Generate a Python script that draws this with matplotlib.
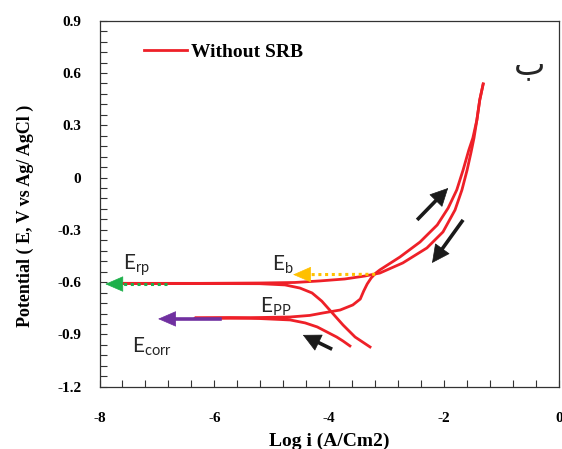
import matplotlib
matplotlib.use("Agg")
import matplotlib.pyplot as plt
from matplotlib.ticker import MultipleLocator, FixedLocator, FuncFormatter

plt.rcParams['axes.unicode_minus'] = False
plt.rcParams['mathtext.fontset'] = 'custom'
plt.rcParams['mathtext.rm'] = 'Lato'
plt.rcParams['mathtext.it'] = 'Lato'

# ---- data (log i in A/cm2, potential in V) ----
fwd_logi = [-3.64, -3.76, -3.87, -4.04, -4.21, -4.42, -4.68, -5.21, -5.73, -6.34,
            -5.73, -5.21, -4.68, -4.34, -4.11, -3.81, -3.59, -3.46, -3.40, -3.34,
            -3.27, -3.19, -3.12, -2.77, -2.42, -2.12, -1.93, -1.78, -1.67, -1.57,
            -1.50, -1.43, -1.38, -1.32]
fwd_E = [-0.966, -0.938, -0.915, -0.886, -0.857, -0.834, -0.817, -0.809, -0.806, -0.806,
         -0.805, -0.803, -0.800, -0.791, -0.777, -0.760, -0.731, -0.697, -0.651, -0.611,
         -0.576, -0.548, -0.530, -0.456, -0.370, -0.272, -0.175, -0.071, 0.043, 0.158,
         0.227, 0.330, 0.445, 0.537]

rev_logi = [-1.32, -1.38, -1.43, -1.48, -1.53, -1.60, -1.69, -1.81, -2.02, -2.30,
            -2.72, -3.12, -3.38, -3.73, -4.16, -4.60, -5.21, -6.25, -7.59,
            -6.25, -5.21, -4.77, -4.51, -4.30, -4.13, -3.93, -3.76, -3.55, -3.29]
rev_E = [0.537, 0.445, 0.330, 0.227, 0.147, 0.043, -0.071, -0.186, -0.312, -0.404,
         -0.490, -0.548, -0.565, -0.582, -0.593, -0.602, -0.605, -0.607, -0.607,
         -0.608, -0.609, -0.616, -0.634, -0.662, -0.709, -0.783, -0.846, -0.915, -0.972]

# annotation arrows: (tail, tip)
erp_arrow = ((-6.82, -0.611), (-7.90, -0.611))
ecorr_arrow = ((-5.90, -0.811), (-6.98, -0.811))
eb_arrow = ((-3.20, -0.555), (-4.63, -0.557))
scan_arrows = [((-2.47, -0.243), (-1.93, -0.060)),
               ((-1.67, -0.243), (-2.21, -0.490)),
               ((-3.95, -0.985), (-4.46, -0.903))]

x_ticks = [-8, -6, -4, -2, 0]
y_ticks = [0.9, 0.6, 0.3, 0, -0.3, -0.6, -0.9, -1.2]

red = '#EE2028'

fig = plt.figure(figsize=(5.62, 4.49), dpi=100)
ax = fig.add_axes([99.5/562, 1-386.7/449, 459.5/562, 366/449])
ax.set_xlim(-8, 0)
ax.set_ylim(-1.2, 0.9)

ax.plot(fwd_logi, fwd_E, color=red, lw=2.0, label='Without SRB', solid_joinstyle='round', zorder=3)
ax.plot(rev_logi, rev_E, color=red, lw=2.0, solid_joinstyle='round', zorder=3)

def head(tail, tip, color, ms=20, hl=0.6, hw=0.26):
    dx = tip[0] - tail[0]
    dy = tip[1] - tail[1]
    start = (tip[0] - 0.05 * dx, tip[1] - 0.05 * dy)
    ax.annotate('', xy=tip, xytext=start,
                arrowprops=dict(arrowstyle=f'-|>,head_length={hl},head_width={hw}',
                                color=color, lw=0.5, shrinkA=0, shrinkB=0,
                                mutation_scale=ms), zorder=5)

# green dotted arrow (Erp)
(t, h) = erp_arrow
ax.plot([t[0], h[0] + 0.2], [t[1], h[1]], color='#1DB04B', lw=2.2, ls=(0, (1, 1.2)), zorder=4)
head(t, h, '#1DB04B')
# purple solid arrow (Ecorr)
(t, h) = ecorr_arrow
ax.plot([t[0], h[0] + 0.2], [t[1], h[1]], color='#7030A0', lw=2.6, zorder=4)
head(t, h, '#7030A0')
# yellow dotted arrow (Eb)
(t, h) = eb_arrow
ax.plot([t[0], h[0] + 0.2], [t[1], h[1]], color='#FFC000', lw=2.2, ls=(0, (1, 1.2)), zorder=4)
head(t, h, '#FFC000')
# black scan direction arrows
for (t, h) in scan_arrows:
    ax.plot([t[0], h[0] - 0.2 * (h[0] - t[0])], [t[1], h[1] - 0.2 * (h[1] - t[1])],
            color='#1a1a1a', lw=2.6, solid_capstyle='butt', zorder=4)
    head(t, h, '#1a1a1a', ms=20, hl=0.6, hw=0.3)

lab_kw = dict(fontsize=15, family='Lato', color='#262626', ha='left', va='baseline')
ax.text(-7.59, -0.530, r'E$_{\mathrm{rp}}$', **lab_kw)
ax.text(-5.00, -0.532, r'E$_{\mathrm{b}}$', **lab_kw)
ax.text(-5.21, -0.777, r'E$_{\mathrm{PP}}$', **lab_kw)
ax.text(-7.43, -1.006, r'E$_{\mathrm{corr}}$', **lab_kw)

ax.text(-0.52, 0.646, 'ب', fontsize=24, family=['DejaVu Sans'], ha='center', va='center', color='#262626')

leg = ax.legend(loc='center left', bbox_to_anchor=(0.097, 0.9145), frameon=False,
                borderpad=0, borderaxespad=0, handlelength=2.2, handletextpad=0.2,
                prop=dict(family='Liberation Serif', weight='bold', size=14))

# ticks
ax.xaxis.set_major_locator(FixedLocator(x_ticks))
ax.xaxis.set_minor_locator(MultipleLocator(0.4))
ax.yaxis.set_major_locator(FixedLocator(y_ticks))
ax.yaxis.set_minor_locator(MultipleLocator(0.06))
ax.xaxis.set_major_formatter(FuncFormatter(lambda v, p: f'{v:.0f}'))
ax.yaxis.set_major_formatter(FuncFormatter(lambda v, p: '0' if abs(v) < 1e-9 else f'{v:.1f}'))
ax.tick_params(which='both', direction='in', length=5, width=0.8, top=False, right=False, color='#333333')
ax.tick_params(axis='y', which='major', pad=13)
ax.tick_params(axis='x', which='major', pad=18)
for lbl in ax.get_xticklabels() + ax.get_yticklabels():
    lbl.set_family('Liberation Serif')
    lbl.set_weight('bold')
    lbl.set_fontsize(11)
for s in ax.spines.values():
    s.set_linewidth(0.9)
    s.set_color('#333333')

fig.text(25/562, 1-216/449, 'Potential ( E, V vs Ag/ AgCl )', rotation=90, ha='center', va='center',
         family='Liberation Serif', weight='bold', fontsize=13)
fig.text(329/562, 1-441/449, 'Log i (A/Cm2)', ha='center', va='center',
         family='Liberation Serif', weight='bold', fontsize=14)

fig.savefig('out.png', dpi=100)
